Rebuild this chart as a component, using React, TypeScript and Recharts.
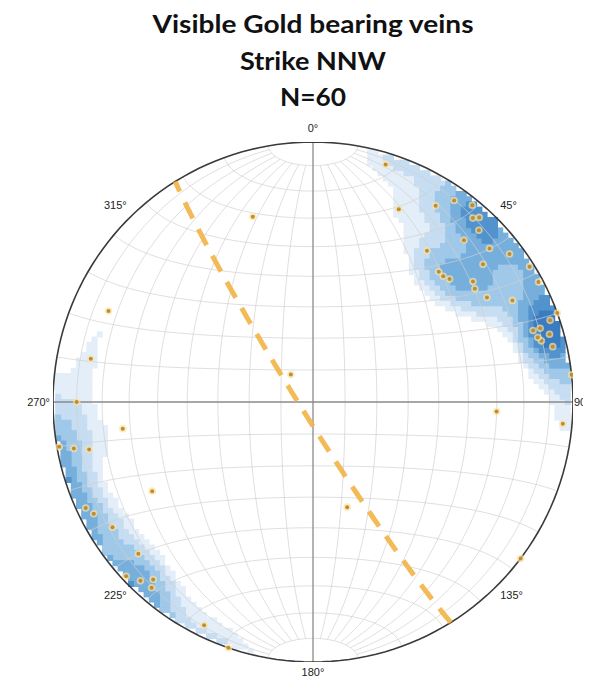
import React from "react";
import { ScatterChart, Scatter, XAxis, YAxis } from "recharts";

// title and azimuth ticks
const titleLines = ["Visible Gold bearing veins", "Strike NNW", "N=60"];
const titleWidths = [321, 146, 66];
const azimuthLabels = [0, 45, 90, 135, 180, 225, 270, 315];

// poles to veins (trend / plunge in degrees)
const poleTrends = [
  17, 24, 32, 35, 39, 42, 44, 43, 49, 53, 37, 44, 48, 53, 55, 59, 63, 58, 62,
  51, 72, 72, 74, 75, 77, 71, 70, 84, 93, 95, 127, 342, 321, 162, 294, 281,
  270, 262, 260, 259, 258, 241, 245, 243, 238, 229, 227, 224, 222, 221, 206,
  199, 74, 41, 46,
];
const polePlunges = [
  5, 20, 12, 6, 3, 5, 9, 16, 11, 6, 28, 31, 30, 24, 25, 23, 15, 2, 2, 17, 12,
  9, 6, 10, 6, 4, 0, 0, 30, 4, 0, 26, 79, 55, 15, 14, 10, 27, 1, 7, 13, 30, 4,
  6, 10, 12, 2, 5, 9, 6, 5, 0, 11, 7, 31,
];

// mean plane (right-hand rule)
const planeStrike = 148;
const planeDip = 86;

// density contour levels (exponential kamb sum)
const densityLevels = [1.25, 2.0, 3.0, 4.2, 5.5, 6.5];
const densityColors = ["#e3eef9", "#c6ddf2", "#a0c8e8", "#77afdc", "#5293ce", "#3b7cc0"];

const D2R = Math.PI / 180;
const WIDTH = 583;
const HEIGHT = 673;
const RADIUS = 260;
const MARGIN = { top: 134, right: 18, bottom: 19, left: 45 };
const CX = MARGIN.left + RADIUS;
const CY = MARGIN.top + RADIUS;

const toNet = (trend: number, plunge: number) => {
  const r = Math.SQRT2 * Math.sin(((90 - plunge) / 2) * D2R);
  return { x: r * Math.sin(trend * D2R), y: r * Math.cos(trend * D2R) };
};

const toVec = (trend: number, plunge: number) => [
  Math.cos(plunge * D2R) * Math.sin(trend * D2R),
  Math.cos(plunge * D2R) * Math.cos(trend * D2R),
  -Math.sin(plunge * D2R),
];

// schmidt net grid
const lonLat = (lon: number, lat: number) => {
  const c = Math.cos(lat * D2R);
  const k = Math.sqrt(1 + c * Math.cos(lon * D2R));
  return { x: (c * Math.sin(lon * D2R)) / k, y: Math.sin(lat * D2R) / k };
};

const gridLines: { x: number; y: number }[][] = [];
for (let lon = -80; lon <= 80; lon += 10) {
  if (lon === 0) continue;
  const pts = [];
  for (let lat = -80; lat <= 80; lat += 2) pts.push(lonLat(lon, lat));
  gridLines.push(pts);
}
for (let lat = -80; lat <= 80; lat += 10) {
  if (lat === 0) continue;
  const pts = [];
  for (let lon = -90; lon <= 90; lon += 3) pts.push(lonLat(lon, lat));
  gridLines.push(pts);
}

const axisLines = [
  [{ x: -1, y: 0 }, { x: 1, y: 0 }],
  [{ x: 0, y: -1 }, { x: 0, y: 1 }],
];

const primitive: { x: number; y: number }[] = [];
for (let a = 0; a <= 360; a += 2) primitive.push(toNet(a, 0));

// great circle of the plane
const greatCircle: { x: number; y: number }[] = [];
{
  const dipDir = planeStrike + 90;
  const s = [Math.sin(planeStrike * D2R), Math.cos(planeStrike * D2R), 0];
  const d = [
    Math.cos(planeDip * D2R) * Math.sin(dipDir * D2R),
    Math.cos(planeDip * D2R) * Math.cos(dipDir * D2R),
    -Math.sin(planeDip * D2R),
  ];
  for (let rake = 0; rake <= 180; rake += 2) {
    const c = Math.cos(rake * D2R);
    const sn = Math.sin(rake * D2R);
    const v = [c * s[0] + sn * d[0], c * s[1] + sn * d[1], c * s[2] + sn * d[2]];
    const plunge = Math.asin(Math.min(1, -v[2])) / D2R;
    const trend = Math.atan2(v[0], v[1]) / D2R;
    greatCircle.push(toNet(trend, plunge));
  }
}

const poles = poleTrends.map((t, i) => toNet(t, polePlunges[i]));

// density grid
const poleVecs = poleTrends.map((t, i) => toVec(t, polePlunges[i]));
const KAMB_K = 80;
const CELL = 0.02;
const densityCells: { x: number; y: number; level: number }[] = [];
for (let i = -50; i <= 50; i++) {
  for (let j = -50; j <= 50; j++) {
    const x = i * CELL;
    const y = j * CELL;
    const r = Math.hypot(x, y);
    if (r > 1 - CELL / 2) continue;
    const plunge = 90 - (2 * Math.asin(r / Math.SQRT2)) / D2R;
    const trend = Math.atan2(x, y) / D2R;
    const v = toVec(trend, plunge);
    let sum = 0;
    poleVecs.forEach((p) => {
      const dot = Math.abs(p[0] * v[0] + p[1] * v[1] + p[2] * v[2]);
      sum += Math.exp(KAMB_K * (dot - 1));
    });
    const level = densityLevels.filter((l) => sum >= l).length;
    if (level > 0) densityCells.push({ x, y, level });
  }
}

const NoShape = () => <g />;

const CellShape = (props: any) => {
  const h = (CELL * RADIUS) / 2 + 0.4;
  return <rect x={props.cx - h} y={props.cy - h} width={h * 2} height={h * 2} fill={props.fill} />;
};

const PoleDot = (props: any) => (
  <g>
    <circle cx={props.cx} cy={props.cy} r={3.8} fill="#f8e2a6" opacity={0.7} />
    <circle cx={props.cx} cy={props.cy} r={2} fill="#c28b2c" />
  </g>
);

const labelPos = (az: number) => {
  const s = Math.sin(az * D2R);
  const c = Math.cos(az * D2R);
  const x = CX + (RADIUS + 2) * s + (s > 0.99 ? -1 : s > 0.1 ? 2 : s < -0.1 ? -1 : 0);
  const y = CY - (RADIUS + 2) * c + (c > 0.1 ? -8 : c < -0.1 ? 12 : 4);
  const anchor = s > 0.1 ? "start" : s < -0.1 ? "end" : "middle";
  return { x, y, anchor };
};

export default function App() {
  return (
    <div style={{ position: "relative", width: WIDTH, height: HEIGHT }}>
      <ScatterChart width={WIDTH} height={HEIGHT} margin={MARGIN}>
        <XAxis type="number" dataKey="x" domain={[-1, 1]} allowDataOverflow hide />
        <YAxis type="number" dataKey="y" domain={[-1, 1]} allowDataOverflow hide />
        {densityColors.map((color, idx) => (
          <Scatter
            key={"d" + idx}
            data={densityCells.filter((c) => c.level === idx + 1)}
            fill={color}
            shape={CellShape}
            isAnimationActive={false}
          />
        ))}
        {gridLines.map((pts, idx) => (
          <Scatter
            key={"g" + idx}
            data={pts}
            line={{ stroke: "#cfcfcf", strokeWidth: 0.8, strokeOpacity: 0.85 }}
            lineType="joint"
            shape={NoShape}
            isAnimationActive={false}
          />
        ))}
        {axisLines.map((pts, idx) => (
          <Scatter
            key={"a" + idx}
            data={pts}
            line={{ stroke: "#8a8a8a", strokeWidth: 1.3 }}
            lineType="joint"
            shape={NoShape}
            isAnimationActive={false}
          />
        ))}
        <Scatter
          data={primitive}
          line={{ stroke: "#3a3a3a", strokeWidth: 1.6 }}
          lineType="joint"
          shape={NoShape}
          isAnimationActive={false}
        />
        <Scatter
          data={greatCircle}
          line={{ stroke: "#f2b445", strokeWidth: 5, strokeDasharray: "18 12", strokeOpacity: 0.9 }}
          lineType="joint"
          shape={NoShape}
          isAnimationActive={false}
        />
        <Scatter data={poles} shape={PoleDot} isAnimationActive={false} />
      </ScatterChart>
      <svg
        width={WIDTH}
        height={HEIGHT}
        style={{ position: "absolute", left: 0, top: 0, pointerEvents: "none" }}
      >
        {titleLines.map((line, i) => (
          <text
            key={line}
            x={CX}
            y={25 + i * 36.5}
            textAnchor="middle"
            fontFamily="Lato, 'Open Sans', sans-serif"
            fontWeight="bold"
            fontSize={25}
            fill="#111"
            textLength={titleWidths[i]}
            lengthAdjust="spacingAndGlyphs"
          >
            {line}
          </text>
        ))}
        {azimuthLabels.map((az) => {
          const p = labelPos(az);
          return (
            <text
              key={az}
              x={p.x}
              y={p.y}
              textAnchor={p.anchor}
              fontFamily="'Liberation Sans', Arial, sans-serif"
              fontSize={11}
              fill="#222"
            >
              {az + "°"}
            </text>
          );
        })}
      </svg>
    </div>
  );
}
